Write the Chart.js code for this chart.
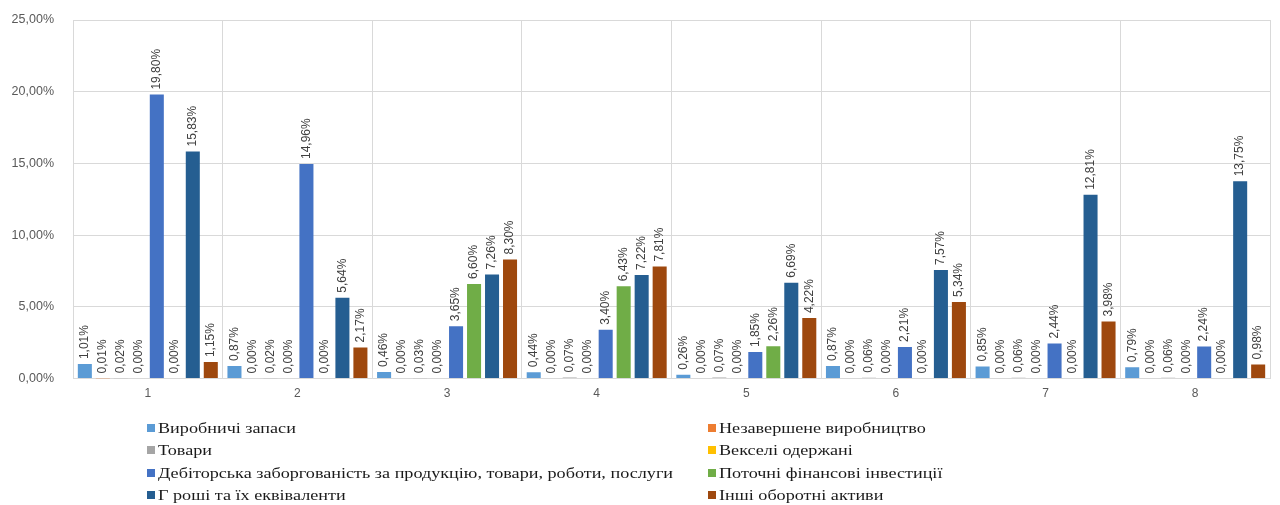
<!DOCTYPE html>
<html>
<head>
<meta charset="utf-8">
<script src="https://cdn.jsdelivr.net/npm/chart.js@4/dist/chart.umd.min.js"></script>
<style>
  html, body { margin: 0; padding: 0; background: #fff; }
  #wrap { width: 1280px; height: 505px; position: relative; }
</style>
</head>
<body>
<div id="wrap"><canvas id="c" width="1280" height="505"></canvas></div>
<script>
const categories = ['1', '2', '3', '4', '5', '6', '7', '8'];

const seriesNames = [
  'Виробничі запаси',
  'Незавершене виробництво',
  'Товари',
  'Векселі одержані',
  'Дебіторська заборгованість за продукцію, товари, роботи, послуги',
  'Поточні фінансові інвестиції',
  'Г роші та їх еквіваленти',
  'Інші оборотні активи'
];

const seriesColors = ['#5B9BD5', '#ED7D31', '#A5A5A5', '#FFC000', '#4472C4', '#70AD47', '#255E91', '#9E480E'];

// shares, %
const vyrobnychiZapasy      = [1.01, 0.87, 0.46, 0.44, 0.26, 0.87, 0.85, 0.79];
const nezavershVyrobnytstvo = [0.01, 0.00, 0.00, 0.00, 0.00, 0.00, 0.00, 0.00];
const tovary                = [0.02, 0.02, 0.03, 0.07, 0.07, 0.06, 0.06, 0.06];
const vekseliOderzhani      = [0.00, 0.00, 0.00, 0.00, 0.00, 0.00, 0.00, 0.00];
const debitorska            = [19.80, 14.96, 3.65, 3.40, 1.85, 2.21, 2.44, 2.24];
const potochniInvestytsii   = [0.00, 0.00, 6.60, 6.43, 2.26, 0.00, 0.00, 0.00];
const groshi                = [15.83, 5.64, 7.26, 7.22, 6.69, 7.57, 12.81, 13.75];
const inshiAktyvy           = [1.15, 2.17, 8.30, 7.81, 4.22, 5.34, 3.98, 0.98];

const yTicks = [0, 5, 10, 15, 20, 25];

const seriesValues = [vyrobnychiZapasy, nezavershVyrobnytstvo, tovary, vekseliOderzhani,
                      debitorska, potochniInvestytsii, groshi, inshiAktyvy];

const fmt = v => v.toFixed(2).replace('.', ',') + '%';

const datasets = seriesValues.map((vals, i) => ({
  label: seriesNames[i],
  data: vals,
  backgroundColor: seriesColors[i],
  borderWidth: 0,
  categoryPercentage: 0.962,
  barPercentage: 0.78
}));

// vertical value labels above each bar
const barValueLabels = {
  id: 'barValueLabels',
  afterDatasetsDraw(chart) {
    const ctx = chart.ctx;
    ctx.save();
    ctx.font = '12px "Liberation Sans", Arial, sans-serif';
    ctx.fillStyle = '#404040';
    ctx.textAlign = 'left';
    ctx.textBaseline = 'middle';
    chart.data.datasets.forEach((ds, di) => {
      const meta = chart.getDatasetMeta(di);
      meta.data.forEach((bar, i) => {
        ctx.save();
        ctx.translate(bar.x, bar.y - 5);
        ctx.rotate(-Math.PI / 2);
        ctx.fillText(fmt(ds.data[i]), 0, 0);
        ctx.restore();
      });
    });
    ctx.restore();
  }
};

// two-column legend under the plot
const twoColLegend = {
  id: 'twoColLegend',
  afterDraw(chart) {
    const ctx = chart.ctx;
    ctx.save();
    ctx.font = '15px "Liberation Serif", "Times New Roman", serif';
    ctx.textBaseline = 'middle';
    ctx.textAlign = 'left';
    const colX = [147, 708];
    const rowY = [428, 450, 473, 495];
    chart.data.datasets.forEach((ds, i) => {
      const x = colX[i % 2];
      const y = rowY[Math.floor(i / 2)];
      ctx.fillStyle = ds.backgroundColor;
      ctx.fillRect(x, y - 4, 8, 8);
      ctx.save();
      ctx.translate(x + 11, y + 1);
      ctx.scale(1.21, 1);
      ctx.fillStyle = '#1a1a1a';
      ctx.fillText(ds.label, 0, 0);
      ctx.restore();
    });
    ctx.restore();
  }
};

new Chart(document.getElementById('c'), {
  type: 'bar',
  data: { labels: categories, datasets },
  options: {
    responsive: false,
    animation: false,
    layout: { padding: { top: 20, right: 10, bottom: 96, left: 0 } },
    plugins: {
      legend: { display: false },
      tooltip: { enabled: false }
    },
    scales: {
      x: {
        grid: { color: '#d9d9d9', lineWidth: 1, offset: true, drawTicks: false },
        border: { color: '#d9d9d9' },
        ticks: {
          color: '#595959',
          font: { family: '"Liberation Sans", Arial, sans-serif', size: 12 },
          padding: 8
        }
      },
      y: {
        min: 0,
        max: 25,
        afterBuildTicks(scale) { scale.ticks = yTicks.map(v => ({ value: v })); },
        afterFit(scale) {
          scale.width = 73;
          scale.paddingTop = 0;
          scale.paddingBottom = 0;
        },
        grid: { color: '#d9d9d9', lineWidth: 1, drawTicks: false },
        border: { display: false },
        ticks: {
          color: '#595959',
          font: { family: '"Liberation Sans", Arial, sans-serif', size: 12.5 },
          padding: 19,
          callback: v => fmt(v)
        }
      }
    }
  },
  plugins: [barValueLabels, twoColLegend]
});
</script>
</body>
</html>
